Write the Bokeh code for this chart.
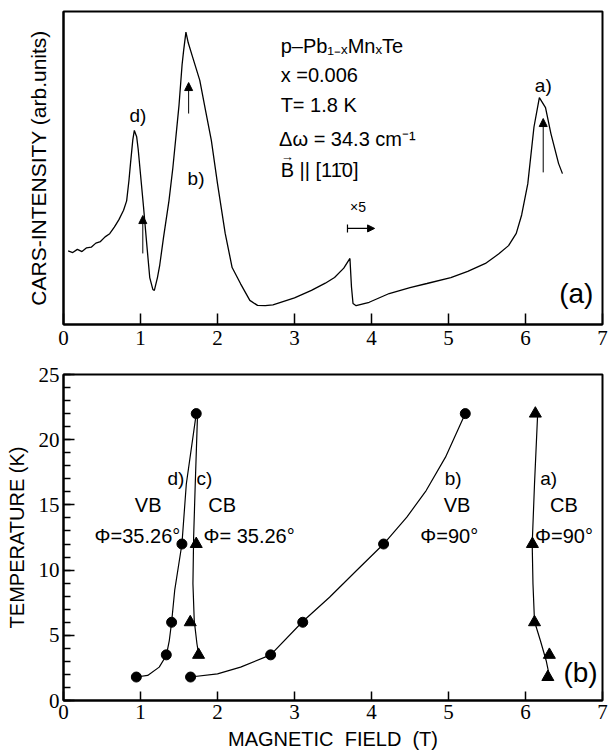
from bokeh.plotting import figure
from bokeh.layouts import column
from bokeh.models import Range1d, FixedTicker, SingleIntervalTicker, Label, Arrow, NormalHead, TeeHead
from bokeh.embed import file_html
from bokeh.resources import INLINE

# ---------------- data ----------------
# (a) CARS intensity scan at T = 1.8 K
scan_field = [0.06, 0.12, 0.18, 0.24, 0.30, 0.36, 0.42, 0.48, 0.54, 0.60, 0.66, 0.72, 0.78,
              0.82, 0.85, 0.87, 0.90, 0.92, 0.95, 0.97, 1.00, 1.04, 1.08, 1.12, 1.16, 1.18,
              1.22, 1.25, 1.30, 1.37, 1.42, 1.46, 1.50, 1.54, 1.56, 1.59, 1.62, 1.67, 1.72,
              1.77, 1.84, 1.92, 2.00, 2.10, 2.19, 2.30, 2.42, 2.52, 2.62, 2.72, 2.82, 3.00,
              3.22, 3.40, 3.52, 3.64, 3.72, 3.74, 3.76, 3.80, 3.97, 4.23, 4.50, 4.72, 5.03,
              5.25, 5.48, 5.65, 5.78, 5.88, 5.95, 6.03, 6.11, 6.18, 6.26, 6.33, 6.43, 6.48]
scan_intensity = [2.35, 2.30, 2.40, 2.33, 2.45, 2.47, 2.60, 2.65, 2.80, 2.90, 3.11, 3.35, 3.65,
                  3.95, 4.60, 5.14, 5.90, 6.20, 6.00, 5.60, 4.80, 3.74, 2.60, 1.50, 1.12, 1.09,
                  1.50, 1.90, 2.80, 3.96, 5.00, 6.00, 7.00, 8.30, 8.75, 9.34, 9.00, 8.60, 8.20,
                  7.80, 6.90, 5.88, 4.50, 2.91, 1.82, 1.30, 0.77, 0.61, 0.60, 0.63, 0.71, 0.85,
                  1.09, 1.32, 1.50, 1.80, 2.11, 1.20, 0.67, 0.60, 0.71, 0.99, 1.18, 1.31, 1.50,
                  1.70, 1.95, 2.25, 2.52, 2.91, 3.50, 4.50, 6.31, 7.25, 6.93, 6.10, 5.14, 4.82]
peak_arrow_field = [1.03, 1.625, 6.23]
peak_arrow_base = [2.27, 6.74, 4.86]
peak_arrow_tip = [3.48, 7.73, 6.58]

# (b) resonance positions versus temperature
temp_vb35 = [1.8, 3.5, 6.0, 12.0, 22.0]
field_vb35 = [0.946, 1.335, 1.404, 1.538, 1.724]
temp_cb35 = [3.5, 6.0, 12.0]
field_cb35 = [1.754, 1.646, 1.724]
temp_vb90 = [1.8, 3.5, 6.0, 12.0, 22.0]
field_vb90 = [1.650, 2.690, 3.107, 4.157, 5.218]
temp_cb90 = [1.8, 3.5, 6.0, 12.0, 22.0]
field_cb90 = [6.29, 6.31, 6.117, 6.09, 6.128]

# hand-drawn guide curves
guide_d_field = [0.946, 1.093, 1.243, 1.335, 1.374, 1.404, 1.444, 1.538, 1.595, 1.724]
guide_d_temp = [1.8, 1.92, 2.56, 3.45, 4.6, 6.0, 8.44, 12.0, 16.6, 22.0]
guide_c_field = [1.741, 1.711, 1.690, 1.681, 1.698, 1.733, 1.754]
guide_c_temp = [22.0, 16.6, 12.5, 8.95, 6.13, 4.35, 3.58]
guide_b_field = [1.650, 2.00, 2.30, 2.690, 3.107, 3.455, 3.806, 4.157, 4.459, 4.710, 4.961, 5.218]
guide_b_temp = [1.8, 2.04, 2.56, 3.5, 6.06, 7.92, 9.97, 12.0, 14.06, 16.1, 18.66, 22.0]
guide_a_field = [6.158, 6.117, 6.087, 6.097, 6.117, 6.193, 6.268, 6.318]
guide_a_temp = [22.0, 16.6, 12.0, 8.95, 6.06, 4.6, 3.07, 1.66]

field_ticks = [0, 1, 2, 3, 4, 5, 6, 7]

FONT = "Liberation Sans"
NARROW = "Liberation Sans Narrow"


def style(p):
    p.toolbar_location = None
    p.xgrid.visible = False
    p.ygrid.visible = False
    p.outline_line_color = "black"
    p.outline_line_width = 2
    p.background_fill_color = "white"
    p.border_fill_color = "white"
    for ax in (p.xaxis[0], p.yaxis[0]):
        ax.axis_line_width = 2
        ax.axis_line_color = "black"
        ax.major_tick_line_color = "black"
        ax.major_tick_line_width = 1.5
        ax.minor_tick_line_color = "black"
        ax.minor_tick_line_width = 1.5
        ax.major_tick_out = 0
        ax.minor_tick_out = 0
        ax.major_label_text_font = NARROW
        ax.major_label_text_font_size = "21px"
        ax.major_label_text_color = "black"
        ax.axis_label_text_font = FONT
        ax.axis_label_text_font_style = "normal"
        ax.axis_label_text_color = "black"


# ---------------- panel (a) ----------------
p1 = figure(width=608, height=350, output_backend="svg", toolbar_location=None,
            x_range=Range1d(0, 7), y_range=Range1d(0, 10),
            min_border_left=61, min_border_right=6, min_border_top=11, min_border_bottom=26)
style(p1)
p1.xaxis.ticker = FixedTicker(ticks=field_ticks)
p1.xaxis.major_tick_in = 11
p1.xaxis.major_label_standoff = 6
p1.yaxis.ticker = FixedTicker(ticks=[])
p1.yaxis.axis_label = "CARS-INTENSITY (arb.units)"
p1.yaxis.axis_label_text_font_size = "21px"
p1.yaxis.axis_label_standoff = 14

p1.line(scan_field, scan_intensity, line_color="black", line_width=1.3)
for xf, yb, yt in zip(peak_arrow_field, peak_arrow_base, peak_arrow_tip):
    p1.add_layout(Arrow(end=NormalHead(size=8, fill_color="black", line_color="black"),
                        x_start=xf, y_start=yb, x_end=xf, y_end=yt,
                        line_color="black", line_width=1))

p1.add_layout(Arrow(start=TeeHead(size=8, line_color="black", line_width=1.2),
                    end=NormalHead(size=7, fill_color="black", line_color="black"),
                    x_start=3.688, y_start=3.07, x_end=4.04, y_end=3.07,
                    line_color="black", line_width=1.2))


def lab(p, x, y, text, size="20px", align="center", font=FONT, baseline="middle"):
    p.add_layout(Label(x=x, y=y, text=text, text_font=font, text_font_size=size,
                       text_align=align, text_baseline=baseline, text_color="black"))


lab(p1, 0.967, 6.68, "d)", "19px")
lab(p1, 1.721, 4.66, "b)", "19px")
lab(p1, 6.231, 7.64, "a)", "19px")
lab(p1, 3.825, 3.74, "\u00d75", "14px")
lab(p1, 2.82, 8.91, "p\u2013Pb\u2081\u208b\u2093Mn\u2093Te", align="left")
lab(p1, 2.82, 7.96, "x =0.006", align="left")
lab(p1, 2.82, 7.00, "T= 1.8 K", align="left")
lab(p1, 2.80, 5.92, "\u0394\u03c9 = 34.3 cm\u207b\u00b9", align="left")
lab(p1, 2.82, 4.95, "B || [11\u03040]", align="left")
lab(p1, 2.905, 5.38, "\u2192", "13px")
lab(p1, 6.66, 0.99, "(a)", "28px")

# ---------------- panel (b) ----------------
p2 = figure(width=608, height=404, output_backend="svg", toolbar_location=None,
            x_range=Range1d(0, 7), y_range=Range1d(0, 25),
            min_border_left=63, min_border_right=5, min_border_top=24, min_border_bottom=54)
style(p2)
p2.xaxis.ticker = FixedTicker(ticks=field_ticks)
p2.xaxis.major_tick_in = 9
p2.xaxis.major_label_standoff = 4
p2.xaxis.axis_label = "MAGNETIC\u00a0\u00a0FIELD\u00a0\u00a0(T)"
p2.xaxis.axis_label_text_font_size = "20px"
p2.xaxis.axis_label_standoff = 6
p2.yaxis.ticker = SingleIntervalTicker(interval=5, num_minor_ticks=5)
p2.yaxis.major_tick_in = 11
p2.yaxis.minor_tick_in = 7
p2.yaxis.major_label_standoff = 4
p2.yaxis.axis_label = "TEMPERATURE (K)"
p2.yaxis.axis_label_text_font_size = "20px"
p2.yaxis.axis_label_standoff = 8

for gx, gy in ((guide_d_field, guide_d_temp), (guide_c_field, guide_c_temp),
               (guide_b_field, guide_b_temp), (guide_a_field, guide_a_temp)):
    p2.line(gx, gy, line_color="black", line_width=1.2)

p2.scatter(field_vb35, temp_vb35, marker="circle", size=10, color="black")
p2.scatter(field_vb90, temp_vb90, marker="circle", size=10, color="black")
p2.scatter(field_cb35, temp_cb35, marker="triangle", size=12, color="black")
p2.scatter(field_cb90, temp_cb90, marker="triangle", size=12, color="black")

lab(p2, 1.46, 17.0, "d)", "19px")
lab(p2, 1.83, 17.0, "c)", "19px")
lab(p2, 1.10, 15.0, "VB")
lab(p2, 2.06, 15.0, "CB")
lab(p2, 0.96, 12.6, "\u03a6=35.26\u00b0")
lab(p2, 2.41, 12.6, "\u03a6= 35.26\u00b0")
lab(p2, 5.06, 17.0, "b)", "19px")
lab(p2, 5.11, 15.0, "VB")
lab(p2, 5.01, 12.6, "\u03a6=90\u00b0")
lab(p2, 6.30, 17.0, "a)", "19px")
lab(p2, 6.50, 15.0, "CB")
lab(p2, 6.50, 12.6, "\u03a6=90\u00b0")
lab(p2, 6.715, 2.17, "(b)", "28px")

layout = column(p1, p2, spacing=0)
open("out.html", "w").write(file_html(layout, INLINE))
